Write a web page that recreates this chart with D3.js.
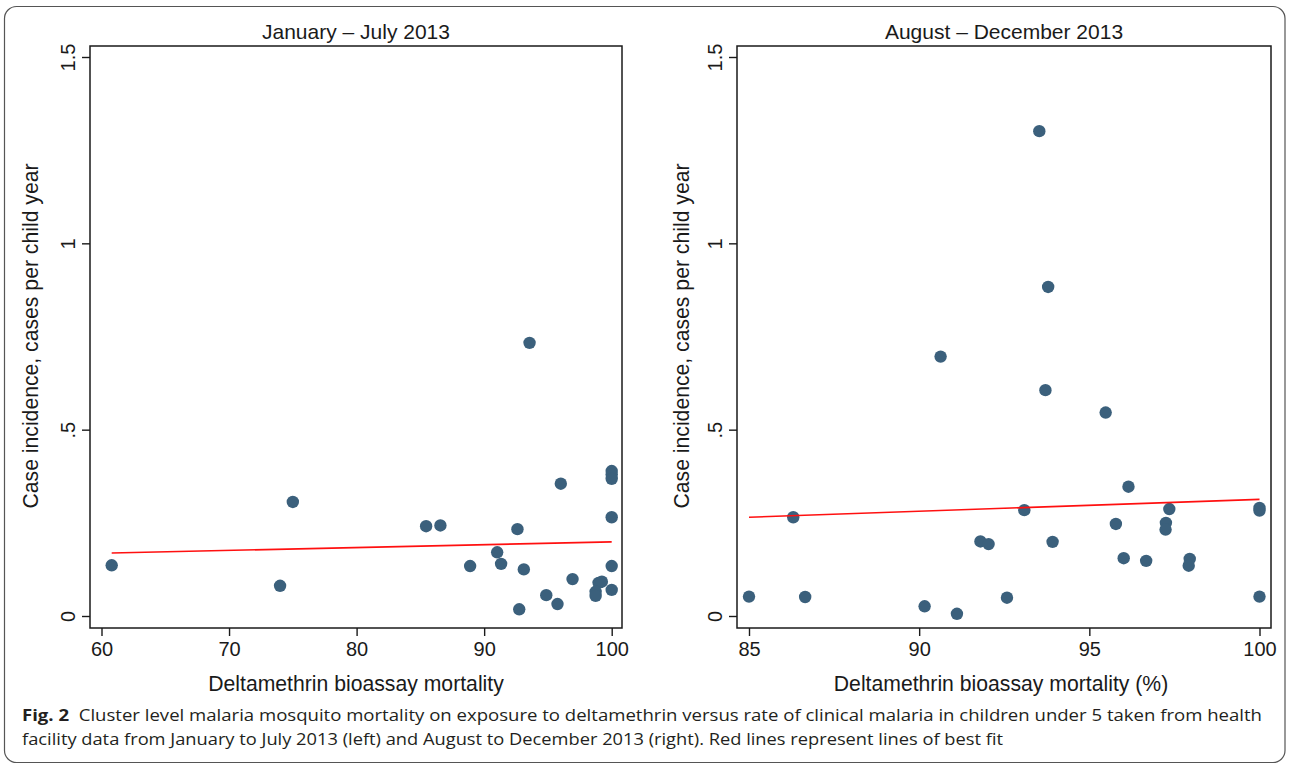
<!DOCTYPE html>
<html>
<head>
<meta charset="utf-8">
<script src="https://cdn.jsdelivr.net/npm/d3@7/dist/d3.min.js"></script>
<style>
  html, body { margin: 0; padding: 0; background: #ffffff; }
  svg { display: block; }
</style>
</head>
<body>
<svg id="chart" width="1290" height="765"></svg>
<script>
// ---------- data ----------
const panelTitles = ["January \u2013 July 2013", "August \u2013 December 2013"];
const xAxisTitles = ["Deltamethrin bioassay mortality", "Deltamethrin bioassay mortality (%)"];
const yAxisTitle = "Case incidence, cases per child year";

const leftXTicks = [60, 70, 80, 90, 100];
const rightXTicks = [85, 90, 95, 100];
const yTicks = [0, 0.5, 1, 1.5];
const yTickLabels = ["0", ".5", "1", "1.5"];

// Jan-Jul 2013: mortality %, incidence
const leftMortality = [60.8, 74.0, 75.0, 85.45, 86.57, 88.9, 91.02, 91.33, 92.61, 92.75, 93.11, 93.56, 94.87, 95.75, 96.01, 96.93, 98.97, 99.23, 98.74, 98.74, 100, 100, 100, 100, 100, 100];
const leftIncidence = [0.136, 0.081, 0.306, 0.241, 0.243, 0.134, 0.171, 0.140, 0.233, 0.018, 0.125, 0.733, 0.056, 0.032, 0.355, 0.099, 0.089, 0.092, 0.065, 0.054, 0.389, 0.380, 0.368, 0.265, 0.134, 0.070];
const leftFitX = [60.8, 100];
const leftFitY = [0.169, 0.199];

// Aug-Dec 2013
const rightMortality = [85.0, 86.3, 86.65, 90.16, 91.11, 91.80, 92.04, 92.58, 93.09, 93.92, 95.78, 96.01, 96.15, 96.67, 97.25, 97.24, 97.35, 97.95, 97.92, 100, 100, 100, 93.53, 93.79, 90.63, 93.71, 95.48];
const rightIncidence = [0.052, 0.265, 0.051, 0.026, 0.006, 0.200, 0.193, 0.049, 0.284, 0.199, 0.247, 0.155, 0.347, 0.148, 0.250, 0.232, 0.287, 0.153, 0.135, 0.283, 0.290, 0.052, 1.301, 0.883, 0.696, 0.606, 0.546];
const rightFitX = [85, 100];
const rightFitY = [0.265, 0.313];

const captionBold = "Fig. 2";
const captionLine1 = "Cluster level malaria mosquito mortality on exposure to deltamethrin versus rate of clinical malaria in children under 5 taken from health";
const captionLine2 = "facility data from January to July 2013 (left) and August to December 2013 (right). Red lines represent lines of best fit";

// ---------- layout ----------
const FONT = "'Liberation Sans', Arial, Helvetica, sans-serif";
const INK = "#1a1a1a";
const DOT = "#3b607c";
const svg = d3.select("#chart");

// outer frame
svg.append("rect")
  .attr("x", 4.5).attr("y", 6.5).attr("width", 1280.5).attr("height", 756)
  .attr("rx", 12).attr("ry", 12)
  .attr("fill", "none").attr("stroke", "#555").attr("stroke-width", 1.2);

const panels = [
  { box: [90, 46, 622, 628], xDomain: [60, 100], xRange: [101.5, 611.7], xTicks: leftXTicks,
    xs: leftMortality, ys: leftIncidence, fx: leftFitX, fy: leftFitY, title: panelTitles[0], xTitle: xAxisTitles[0], yTitleX: 32, xTitleShift: 0 },
  { box: [737, 46, 1271, 628], xDomain: [85, 100], xRange: [749, 1259.5], xTicks: rightXTicks,
    xs: rightMortality, ys: rightIncidence, fx: rightFitX, fy: rightFitY, title: panelTitles[1], xTitle: xAxisTitles[1], yTitleX: 683, xTitleShift: -3 }
];

const y = d3.scaleLinear().domain([0, 1.5]).range([616, 57]);

panels.forEach(p => {
  const [x0, y0, x1, y1] = p.box;
  const x = d3.scaleLinear().domain(p.xDomain).range(p.xRange);
  const g = svg.append("g");

  // title
  g.append("text")
    .attr("x", (x0 + x1) / 2).attr("y", 39)
    .attr("text-anchor", "middle")
    .attr("font-family", FONT).attr("font-size", 21).attr("fill", INK)
    .text(p.title);

  // y axis
  const yAxis = d3.axisLeft(y).tickValues(yTicks).tickSize(8).tickPadding(5)
    .tickFormat((d, i) => yTickLabels[i]);
  const ya = g.append("g").attr("transform", `translate(${x0},0)`).call(yAxis);
  ya.select(".domain").remove();
  ya.selectAll(".tick line").attr("stroke", INK).attr("stroke-width", 1.4);
  ya.selectAll(".tick text")
    .attr("font-family", FONT).attr("font-size", 20).attr("fill", INK)
    .attr("x", null).attr("dy", null)
    .attr("text-anchor", "middle")
    .attr("transform", "translate(-20,0) rotate(-90)")
    .attr("y", 0)
    .attr("dominant-baseline", "middle");

  // x axis
  const xAxis = d3.axisBottom(x).tickValues(p.xTicks).tickSize(8).tickPadding(6)
    .tickFormat(d3.format("d"));
  const xa = g.append("g").attr("transform", `translate(0,${y1})`).call(xAxis);
  xa.select(".domain").remove();
  xa.selectAll(".tick line").attr("stroke", INK).attr("stroke-width", 1.4);
  xa.selectAll(".tick text")
    .attr("font-family", FONT).attr("font-size", 20).attr("fill", INK);

  // y axis title
  g.append("text")
    .attr("transform", `translate(${p.yTitleX},${(y0 + y1) / 2 - 1}) rotate(-90)`)
    .attr("text-anchor", "middle").attr("dominant-baseline", "middle")
    .attr("font-family", FONT).attr("font-size", 21.2).attr("fill", INK)
    .text(yAxisTitle);

  // x axis title
  g.append("text")
    .attr("x", (x0 + x1) / 2 + p.xTitleShift).attr("y", 691)
    .attr("text-anchor", "middle")
    .attr("font-family", FONT).attr("font-size", 21.2).attr("fill", INK)
    .text(p.xTitle);

  // points
  g.append("g").selectAll("circle")
    .data(p.xs.map((v, i) => [v, p.ys[i]]))
    .join("circle")
    .attr("cx", d => x(d[0])).attr("cy", d => y(d[1]))
    .attr("r", 6.2).attr("fill", DOT);

  // fit line
  g.append("path")
    .datum(p.fx.map((v, i) => [v, p.fy[i]]))
    .attr("d", d3.line().x(d => x(d[0])).y(d => y(d[1])))
    .attr("fill", "none").attr("stroke", "#ff1010").attr("stroke-width", 1.6);

  // plot region border
  g.append("rect")
    .attr("x", x0).attr("y", y0).attr("width", x1 - x0).attr("height", y1 - y0)
    .attr("fill", "none").attr("stroke", INK).attr("stroke-width", 1.5);
});

// caption
const CAPFONT = "'Open Sans', 'Noto Sans', sans-serif";
const c1 = svg.append("text")
  .attr("x", 22).attr("y", 720.5)
  .attr("font-family", CAPFONT).attr("font-size", 16.5).attr("fill", "#231f20")
  .attr("textLength", 1240).attr("lengthAdjust", "spacingAndGlyphs");
c1.append("tspan").attr("font-weight", "bold").text(captionBold);
c1.append("tspan").text("\u00a0\u00a0" + captionLine1);

svg.append("text")
  .attr("x", 22).attr("y", 744.5)
  .attr("font-family", CAPFONT).attr("font-size", 16.5).attr("fill", "#231f20")
  .attr("textLength", 981).attr("lengthAdjust", "spacingAndGlyphs")
  .text(captionLine2);
</script>
</body>
</html>
